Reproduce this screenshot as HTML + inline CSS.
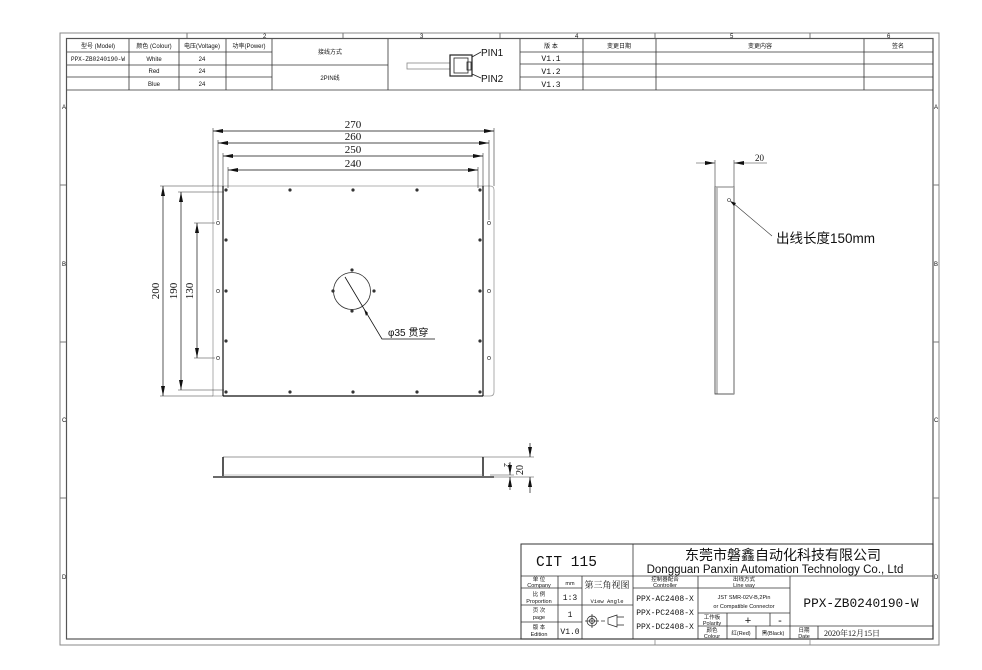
<!DOCTYPE html>
<html><head><meta charset="utf-8"><style>
html,body{margin:0;padding:0;background:#fff;}
svg{display:block;}
text{font-family:"Liberation Sans","Noto Sans CJK SC",sans-serif;fill:#111;}
.s{font-family:"Liberation Serif","Noto Serif CJK SC",serif;}
.m{font-family:"Liberation Mono","Noto Sans CJK SC",monospace;}
</style></head><body>
<svg width="982" height="670" viewBox="0 0 982 670" xmlns="http://www.w3.org/2000/svg">
<defs>
<marker id="a" viewBox="0 0 10 4" refX="10" refY="2" markerWidth="10" markerHeight="4" orient="auto-start-reverse" markerUnits="userSpaceOnUse"><path d="M0,0L10,2L0,4z" fill="#111"/></marker>
</defs>
<rect width="982" height="670" fill="#fff"/>
<rect x="60" y="33" width="879" height="612" fill="none" stroke="#888" stroke-width="1"/>
<rect x="66.5" y="38.5" width="866.5" height="600.5" fill="none" stroke="#555" stroke-width="1.2"/>
<g stroke="#777" stroke-width="1">
<line x1="187" y1="33" x2="187" y2="38"/><line x1="343" y1="33" x2="343" y2="38"/><line x1="500" y1="33" x2="500" y2="38"/><line x1="655" y1="33" x2="655" y2="38"/><line x1="810" y1="33" x2="810" y2="38"/>
<line x1="60" y1="185" x2="66" y2="185"/><line x1="60" y1="342" x2="66" y2="342"/><line x1="60" y1="498" x2="66" y2="498"/>
<line x1="933" y1="185" x2="939" y2="185"/><line x1="933" y1="342" x2="939" y2="342"/><line x1="933" y1="498" x2="939" y2="498"/>
</g>
<g font-size="6">
<text x="263" y="38">2</text><text x="420" y="38">3</text><text x="575" y="38">4</text><text x="730" y="38">5</text><text x="887" y="38">6</text>
<text x="62" y="109">A</text><text x="62" y="266">B</text><text x="62" y="422">C</text><text x="62" y="579">D</text>
<text x="934" y="109">A</text><text x="934" y="266">B</text><text x="934" y="422">C</text><text x="934" y="579">D</text>
</g>
<g stroke="#333" stroke-width="0.8" fill="none">
<line x1="67" y1="52" x2="272" y2="52"/><line x1="67" y1="65" x2="272" y2="65"/><line x1="67" y1="77" x2="272" y2="77"/>
<line x1="272" y1="65" x2="388" y2="65"/>
<line x1="67" y1="90" x2="933" y2="90"/>
<line x1="129" y1="39" x2="129" y2="90"/><line x1="179" y1="39" x2="179" y2="90"/><line x1="226" y1="39" x2="226" y2="90"/><line x1="272" y1="39" x2="272" y2="90"/><line x1="388" y1="39" x2="388" y2="90"/><line x1="520" y1="39" x2="520" y2="90"/>
<line x1="520" y1="52" x2="933" y2="52"/><line x1="520" y1="64" x2="933" y2="64"/><line x1="520" y1="77" x2="933" y2="77"/>
<line x1="583" y1="39" x2="583" y2="90"/><line x1="656" y1="39" x2="656" y2="90"/><line x1="864" y1="39" x2="864" y2="90"/>
</g>
<g font-size="6" text-anchor="middle">
<text x="98" y="48">型号 (Model)</text><text x="154" y="48">颜色 (Colour)</text><text x="202" y="48">电压(Voltage)</text><text x="249" y="48">功率(Power)</text>
<text x="98" y="61" class="m">PPX-ZB0240190-W</text><text x="154" y="61">White</text><text x="202" y="61">24</text>
<text x="154" y="73">Red</text><text x="202" y="73">24</text>
<text x="154" y="86">Blue</text><text x="202" y="86">24</text>
<text x="330" y="54">接线方式</text><text x="330" y="80">2PIN线</text>
<text x="551" y="48">版 本</text><text x="619" y="48">变更日期</text><text x="760" y="48">变更内容</text><text x="898" y="48">签名</text>
</g>
<g font-size="8" text-anchor="middle"><text class="m" x="551" y="61">V1.1</text><text class="m" x="551" y="74">V1.2</text><text class="m" x="551" y="87">V1.3</text></g>
<g stroke="#222" fill="none" stroke-width="0.8">
<rect x="407" y="63" width="43" height="6" stroke="#888"/>
<rect x="450" y="55" width="22" height="21" stroke-width="1.2"/>
<rect x="454" y="58" width="14" height="15"/>
<rect x="467" y="62" width="4" height="8"/>
<line x1="472" y1="57" x2="481" y2="52"/><line x1="472" y1="74" x2="481" y2="78"/>
</g>
<text x="481" y="56" font-size="10">PIN1</text><text x="481" y="82" font-size="10">PIN2</text>
<path d="M213,186 H490 Q494,186 494,190 V392 Q494,396 490,396 H213 Z" fill="none" stroke="#999" stroke-width="0.8"/>
<g stroke="#111" stroke-width="1.2">
<line x1="223" y1="186" x2="223" y2="396"/><line x1="483" y1="186" x2="483" y2="396"/><line x1="223" y1="396" x2="483" y2="396"/>
</g>
<g stroke="#333" stroke-width="0.6" fill="none">
<line x1="213" y1="128" x2="213" y2="186"/><line x1="494" y1="128" x2="494" y2="186"/>
<line x1="218" y1="140" x2="218" y2="220"/><line x1="489" y1="140" x2="489" y2="220"/>
<line x1="223" y1="153" x2="223" y2="186"/><line x1="483" y1="153" x2="483" y2="186"/>
<line x1="228" y1="167" x2="228" y2="188"/><line x1="478" y1="167" x2="478" y2="188"/>
<line x1="160" y1="186" x2="213" y2="186"/><line x1="160" y1="396" x2="213" y2="396"/>
<line x1="178" y1="192" x2="224" y2="192"/><line x1="178" y1="390" x2="224" y2="390"/>
<line x1="194" y1="223" x2="215" y2="223"/><line x1="194" y1="358" x2="215" y2="358"/>
</g>
<g stroke="#111" stroke-width="0.7">
<line x1="213" y1="131" x2="494" y2="131" marker-start="url(#a)" marker-end="url(#a)"/>
<line x1="218" y1="143" x2="489" y2="143" marker-start="url(#a)" marker-end="url(#a)"/>
<line x1="223" y1="156" x2="483" y2="156" marker-start="url(#a)" marker-end="url(#a)"/>
<line x1="228" y1="170" x2="478" y2="170" marker-start="url(#a)" marker-end="url(#a)"/>
<line x1="163" y1="186" x2="163" y2="396" marker-start="url(#a)" marker-end="url(#a)"/>
<line x1="181" y1="192" x2="181" y2="390" marker-start="url(#a)" marker-end="url(#a)"/>
<line x1="197" y1="223" x2="197" y2="358" marker-start="url(#a)" marker-end="url(#a)"/>
</g>
<g font-size="11" text-anchor="middle">
<text class="s" x="353" y="128">270</text><text class="s" x="353" y="140">260</text><text class="s" x="353" y="153">250</text><text class="s" x="353" y="167">240</text>
<text class="s" transform="translate(159,291) rotate(-90)">200</text>
<text class="s" transform="translate(177,291) rotate(-90)">190</text>
<text class="s" transform="translate(193,291) rotate(-90)">130</text>
</g>
<g fill="#333">
<circle cx="226" cy="190" r="1.6"/><circle cx="290" cy="190" r="1.6"/><circle cx="353" cy="190" r="1.6"/><circle cx="417" cy="190" r="1.6"/><circle cx="480" cy="190" r="1.6"/>
<circle cx="226" cy="392" r="1.6"/><circle cx="290" cy="392" r="1.6"/><circle cx="353" cy="392" r="1.6"/><circle cx="417" cy="392" r="1.6"/><circle cx="480" cy="392" r="1.6"/>
<circle cx="226" cy="240" r="1.6"/><circle cx="226" cy="291" r="1.6"/><circle cx="226" cy="341" r="1.6"/>
<circle cx="480" cy="240" r="1.6"/><circle cx="480" cy="291" r="1.6"/><circle cx="480" cy="341" r="1.6"/>
<circle cx="352" cy="270" r="1.6"/><circle cx="333" cy="291" r="1.6"/><circle cx="374" cy="291" r="1.6"/><circle cx="352" cy="311" r="1.6"/>
</g>
<g fill="none" stroke="#333" stroke-width="0.6">
<circle cx="218" cy="223" r="1.6"/><circle cx="218" cy="291" r="1.6"/><circle cx="218" cy="358" r="1.6"/>
<circle cx="489" cy="223" r="1.6"/><circle cx="489" cy="291" r="1.6"/><circle cx="489" cy="358" r="1.6"/>
<circle cx="352" cy="291" r="18.5" stroke-width="0.8"/>
<polyline points="345,277 382,339 435,339" stroke="#111" stroke-width="0.8"/>
</g>
<path d="M364,309 L368,313 L366,316 Z" fill="#111"/>
<text x="388" y="336" font-size="10">φ35 贯穿</text>
<g stroke="#111">
<line x1="223" y1="457" x2="483" y2="457" stroke="#777" stroke-width="0.8"/>
<line x1="223" y1="457" x2="223" y2="476" stroke-width="1.4"/><line x1="483" y1="457" x2="483" y2="476" stroke-width="1.4"/>
<line x1="213" y1="477" x2="494" y2="477" stroke-width="1.2"/>
<line x1="223" y1="475" x2="483" y2="475" stroke="#888" stroke-width="0.5"/>
</g>
<g stroke="#444" stroke-width="0.6">
<line x1="483" y1="457" x2="534" y2="457"/><line x1="494" y1="477" x2="534" y2="477"/><line x1="490" y1="475" x2="514" y2="475"/>
</g>
<g stroke="#111" stroke-width="0.7">
<line x1="530" y1="443" x2="530" y2="457" marker-end="url(#a)"/><line x1="530" y1="493" x2="530" y2="477" marker-end="url(#a)"/>
<line x1="510" y1="462" x2="510" y2="475" marker-end="url(#a)"/><line x1="510" y1="490" x2="510" y2="477" marker-end="url(#a)"/>
</g>
<text class="s" font-size="8" transform="translate(504,463) rotate(90)">2</text>
<text class="s" font-size="10" transform="translate(523,470) rotate(-90)" text-anchor="middle">20</text>
<rect x="715" y="187" width="19" height="207" fill="none" stroke="#333" stroke-width="0.8"/>
<line x1="717" y1="187" x2="717" y2="394" stroke="#333" stroke-width="0.6"/>
<line x1="734" y1="187" x2="734" y2="394" stroke="#999" stroke-width="1.5"/>
<line x1="715" y1="187" x2="734" y2="187" stroke="#aaa" stroke-width="1.5"/>
<g stroke="#333" stroke-width="0.6"><line x1="715" y1="160" x2="715" y2="187"/><line x1="734" y1="160" x2="734" y2="187"/>
<line x1="696" y1="163" x2="715" y2="163" marker-end="url(#a)"/><line x1="767" y1="163" x2="734" y2="163" marker-end="url(#a)"/>
<circle cx="729" cy="200" r="1.5" fill="none"/>
<polyline points="733,203 772,236" fill="none"/></g>
<path d="M730,201 L736,203 L734,206 Z" fill="#111"/>
<text class="s" x="755" y="161" font-size="9">20</text>
<text x="776" y="243" font-size="13.5">出线长度150mm</text>
<g stroke="#333" stroke-width="0.8" fill="none">
<rect x="521" y="544" width="412" height="95" stroke-width="1"/>
<line x1="521" y1="576" x2="933" y2="576"/>
<line x1="633" y1="544" x2="633" y2="639"/>
<line x1="558" y1="576" x2="558" y2="639"/><line x1="582" y1="576" x2="582" y2="639"/>
<line x1="521" y1="588" x2="582" y2="588"/><line x1="521" y1="605" x2="582" y2="605"/><line x1="521" y1="622" x2="582" y2="622"/>
<line x1="582" y1="605" x2="633" y2="605"/>
<line x1="633" y1="588" x2="790" y2="588"/>
<line x1="698" y1="576" x2="698" y2="639"/><line x1="790" y1="576" x2="790" y2="639"/>
<line x1="698" y1="613" x2="790" y2="613"/><line x1="698" y1="626" x2="790" y2="626"/>
<line x1="727" y1="613" x2="727" y2="639"/><line x1="770" y1="613" x2="770" y2="626"/><line x1="756" y1="626" x2="756" y2="639"/>
<line x1="790" y1="626" x2="933" y2="626"/><line x1="818" y1="626" x2="818" y2="639"/>
<line x1="655" y1="639" x2="655" y2="645" stroke="#888"/><line x1="810" y1="639" x2="810" y2="645" stroke="#888"/>
</g>
<text class="m" x="536" y="566" font-size="14.5">CIT 115</text>
<text x="783" y="560" font-size="14" text-anchor="middle" fill="#222">东莞市磐鑫自动化科技有限公司</text>
<text x="775" y="573" font-size="11.5" text-anchor="middle" fill="#222">Dongguan Panxin Automation Technology Co., Ltd</text>
<g font-size="5.5" text-anchor="middle">
<text x="539" y="581">单 位</text><text x="539" y="587">Company</text>
<text x="539" y="596">比 例</text><text x="539" y="603">Proportion</text>
<text x="539" y="612">页 次</text><text x="539" y="619">page</text>
<text x="539" y="629">版 本</text><text x="539" y="636">Edition</text>
<text x="570" y="585">mm</text>
<text x="665" y="581">控制器配合</text><text x="665" y="587">Controller</text>
<text x="744" y="581">出线方式</text><text x="744" y="587">Line way</text>
<text x="744" y="599">JST SMR-02V-B,2Pin</text><text x="744" y="608">or Compatible Connector</text>
<text x="712" y="619">工作板</text><text x="712" y="625">Polarity</text>
<text x="712" y="632">颜色</text><text x="712" y="638">Colour</text>
<text x="741" y="635">红(Red)</text><text x="773" y="635">黑(Black)</text>
<text x="804" y="632">日期</text><text x="804" y="638">Date</text>
<text x="607" y="603" class="m">View Angle</text>
</g>
<g font-size="8" text-anchor="middle">
<text class="m" x="570" y="600">1:3</text><text class="m" x="570" y="617">1</text><text class="m" x="570" y="634">V1.0</text>
<text class="m" x="665" y="601">PPX-AC2408-X</text><text class="m" x="665" y="615">PPX-PC2408-X</text><text class="m" x="665" y="629">PPX-DC2408-X</text>
</g>
<text x="607" y="588" font-size="9" text-anchor="middle" class="s">第三角视图</text>
<text x="748" y="624" font-size="11" text-anchor="middle">+</text><text x="780" y="624" font-size="11" text-anchor="middle">-</text>
<text class="m" x="861" y="607" font-size="12.8" text-anchor="middle">PPX-ZB0240190-W</text>
<text class="s" x="852" y="636" font-size="8" text-anchor="middle">2020年12月15日</text>
<g stroke="#222" fill="none" stroke-width="0.7">
<circle cx="592" cy="621" r="5"/><circle cx="592" cy="621" r="2.5"/><line x1="585" y1="621" x2="599" y2="621"/><line x1="592" y1="614" x2="592" y2="628"/>
<line x1="601" y1="621" x2="605" y2="621"/>
<path d="M608,618 L617,615 L617,627 L608,624 Z M617,617 H624 M617,625 H624"/>
</g>
</svg>
</body></html>
